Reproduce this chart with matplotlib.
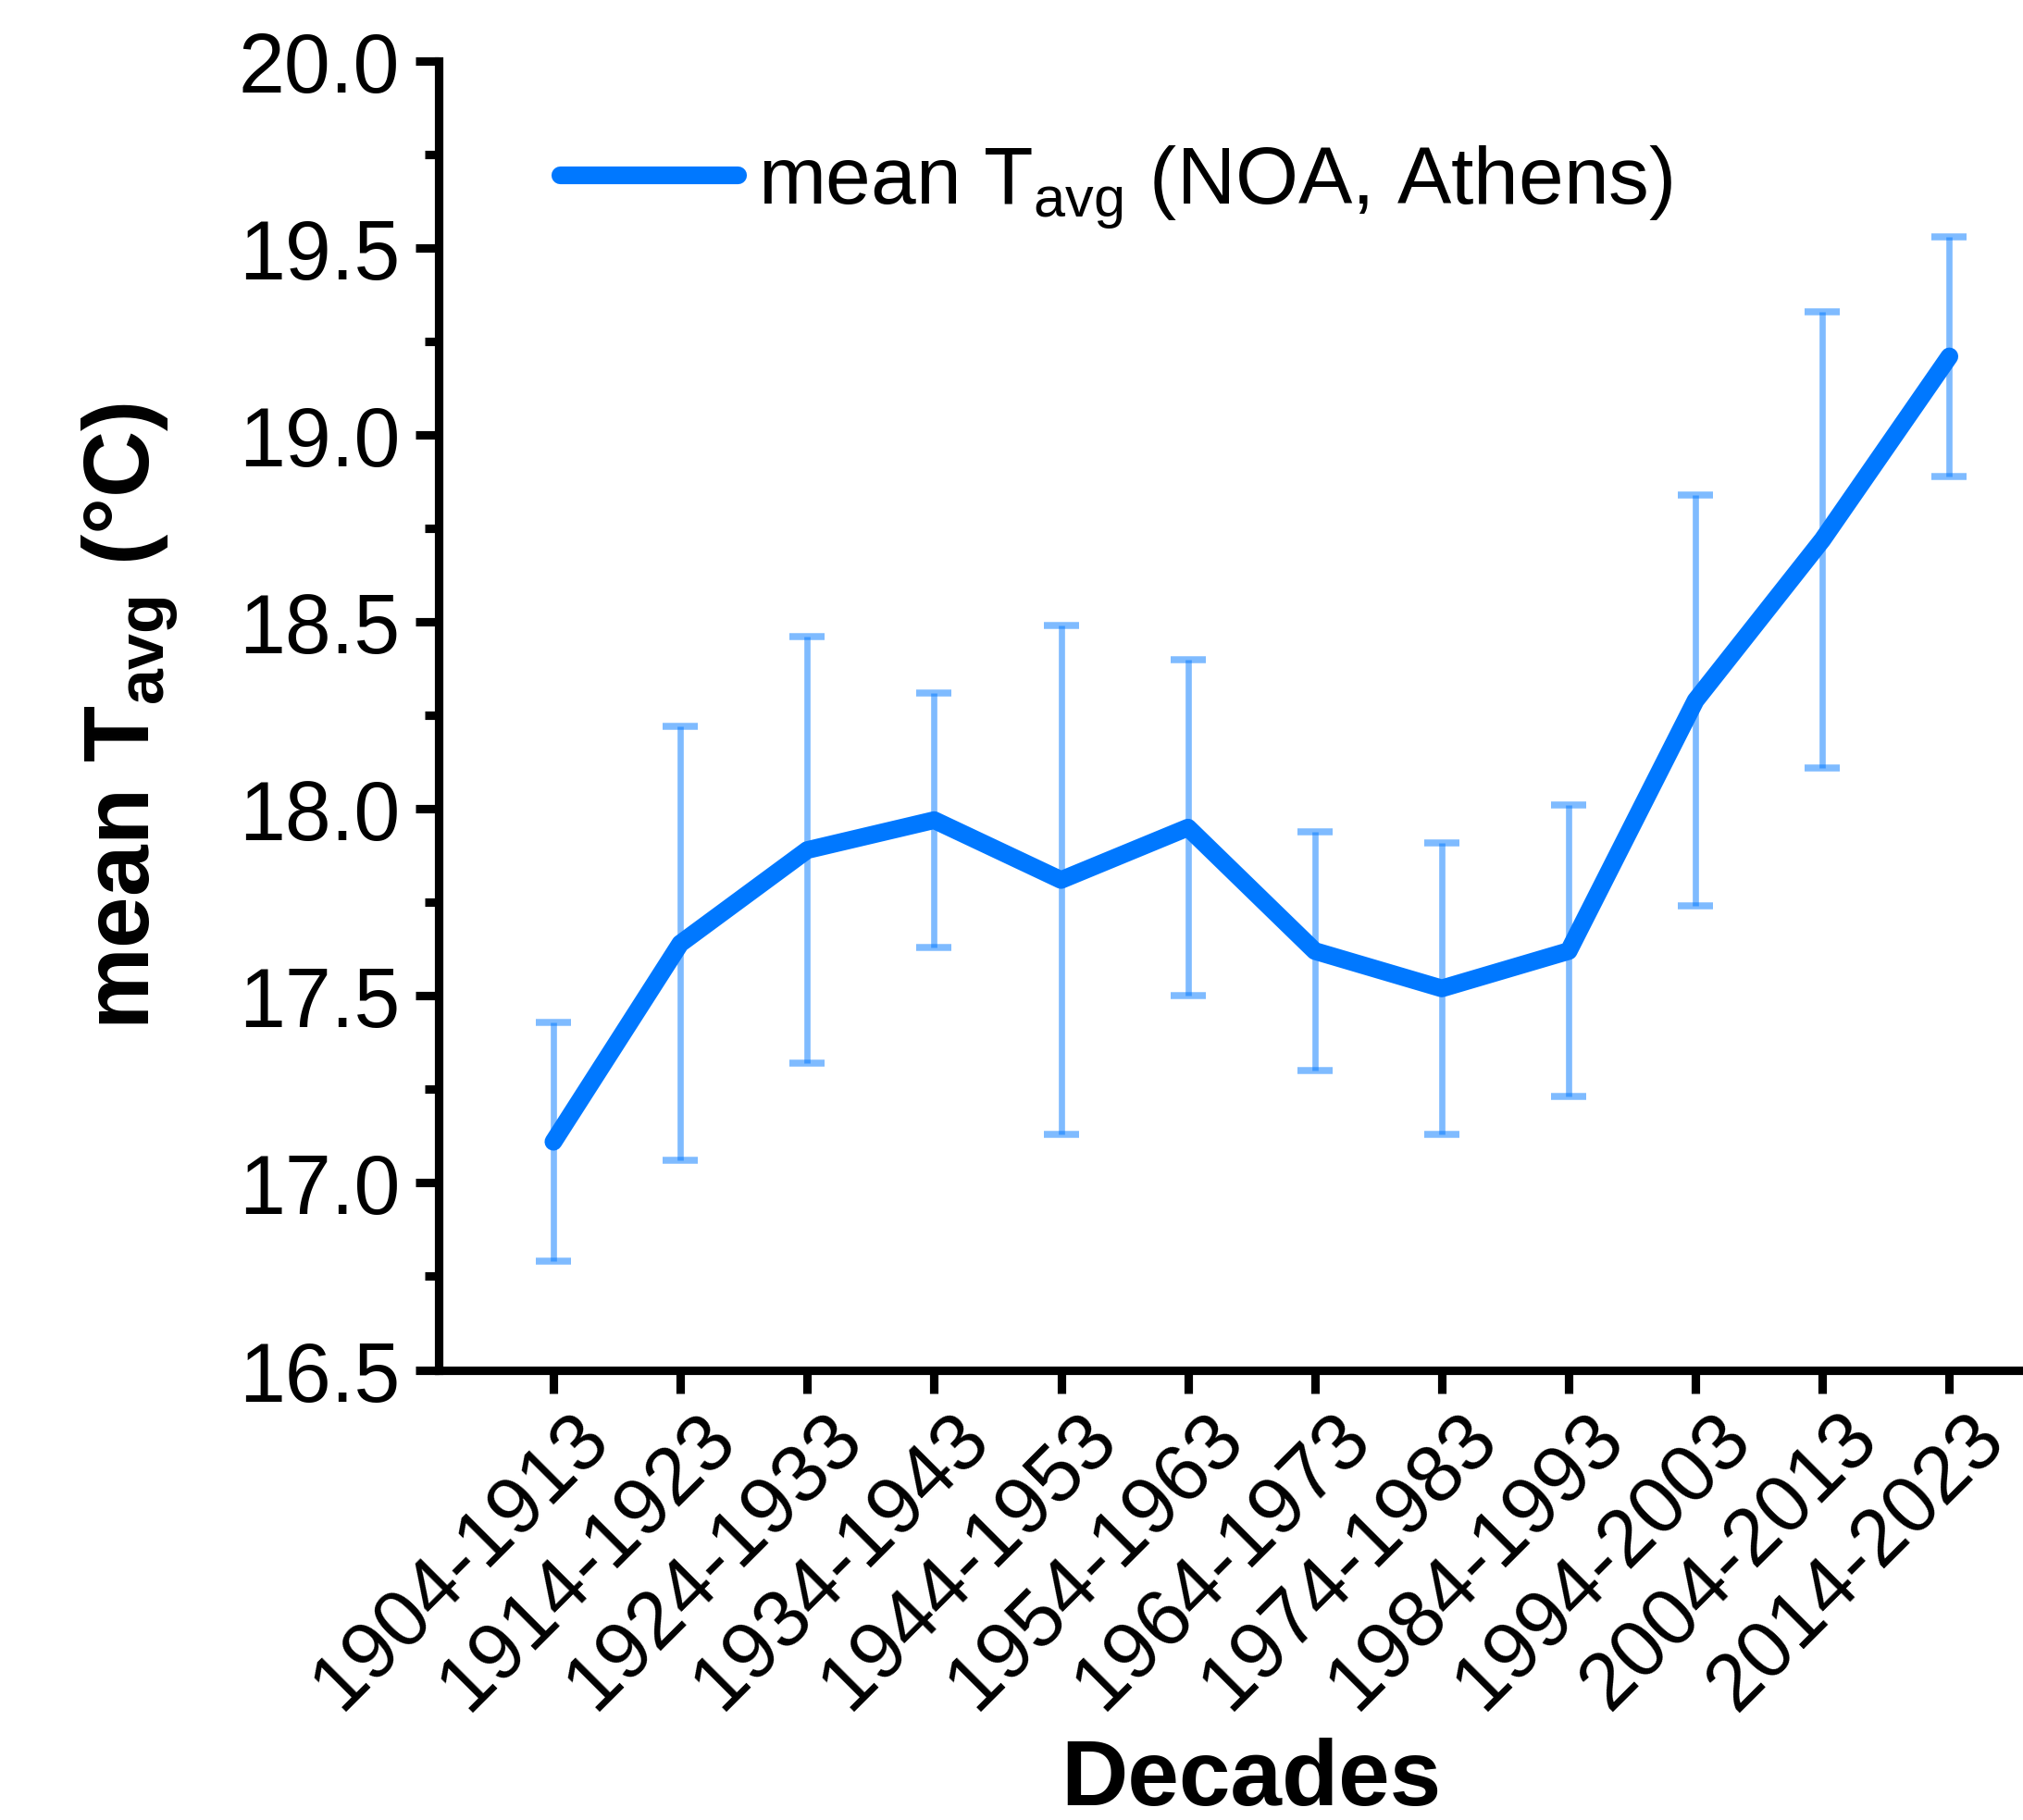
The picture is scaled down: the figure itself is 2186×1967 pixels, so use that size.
import numpy as np
import matplotlib
matplotlib.use("Agg")
import matplotlib.pyplot as plt
import matplotlib.transforms as mtransforms
from matplotlib.ticker import MultipleLocator

plt.rcParams["font.family"] = ["Liberation Sans", "DejaVu Sans"]
plt.rcParams["mathtext.fontset"] = "custom"
plt.rcParams["mathtext.rm"] = "Liberation Sans"
plt.rcParams["mathtext.bf"] = "Liberation Sans:bold"

# decadal mean Tavg at NOA (Athens) and its spread
decades = ["1904-1913", "1914-1923", "1924-1933", "1934-1943", "1944-1953", "1954-1963",
           "1964-1973", "1974-1983", "1984-1993", "1994-2003", "2004-2013", "2014-2023"]
t_mean = [17.11, 17.64, 17.89, 17.97, 17.81, 17.95, 17.62, 17.52, 17.62, 18.29, 18.72, 19.21]
t_err = [0.32, 0.58, 0.57, 0.34, 0.68, 0.45, 0.32, 0.39, 0.39, 0.55, 0.61, 0.32]

blue = "#0078FF"

fig = plt.figure(figsize=(2186 / 300, 1968 / 300), dpi=300)
ax = fig.add_axes([0.2168, 0.2472, 0.7832, 0.7188])

x = np.arange(len(decades))
ax.errorbar(x, t_mean, yerr=t_err, fmt="none", ecolor=blue, alpha=0.5,
            elinewidth=1.6, capsize=4.5, capthick=1.8, zorder=2)
ax.plot(x, t_mean, color=blue, lw=4.6, solid_capstyle="round", solid_joinstyle="round",
        zorder=3, label=r"mean T$_{\mathregular{avg}}$ (NOA, Athens)")

ax.set_xlim(-0.905, 11.58)
ax.set_ylim(16.5, 20.0)
ax.set_xticks(x)
ax.set_xticklabels([])
# rotated decade labels, placed by hand so they sit a bit right of the ticks
shift = mtransforms.ScaledTranslation(0.06, -0.106, fig.dpi_scale_trans)
for xi, lab in zip(x, decades):
    ax.text(xi, 0, lab, transform=ax.get_xaxis_transform() + shift, rotation=45,
            ha="right", va="top", rotation_mode="anchor", fontsize=20.8, clip_on=False)
ax.yaxis.set_major_locator(MultipleLocator(0.5))
ax.yaxis.set_minor_locator(MultipleLocator(0.25))
ax.yaxis.set_major_formatter(matplotlib.ticker.FormatStrFormatter("%.1f"))

for s in ["top", "right"]:
    ax.spines[s].set_visible(False)
for s in ["left", "bottom"]:
    ax.spines[s].set_linewidth(2.2)
ax.tick_params(axis="both", which="major", direction="out", length=6, width=2.2,
               labelsize=21.5, pad=4)
ax.tick_params(axis="y", which="minor", direction="out", length=3.5, width=2.2)

ax.set_xlabel("Decades", fontsize=24, fontweight="bold")
ax.xaxis.set_label_coords(0.513, -0.28)
ax.set_ylabel(r"mean T$_{\mathbf{avg}}$ (°C)", fontsize=24, fontweight="bold")
ax.yaxis.set_label_coords(-0.163, 0.5)

ax.legend(loc="upper left", bbox_to_anchor=(0.056, 0.962), frameon=False, fontsize=21,
          handlelength=2.2, handletextpad=0.25, borderaxespad=0)

fig.savefig("out.png", dpi=300)
